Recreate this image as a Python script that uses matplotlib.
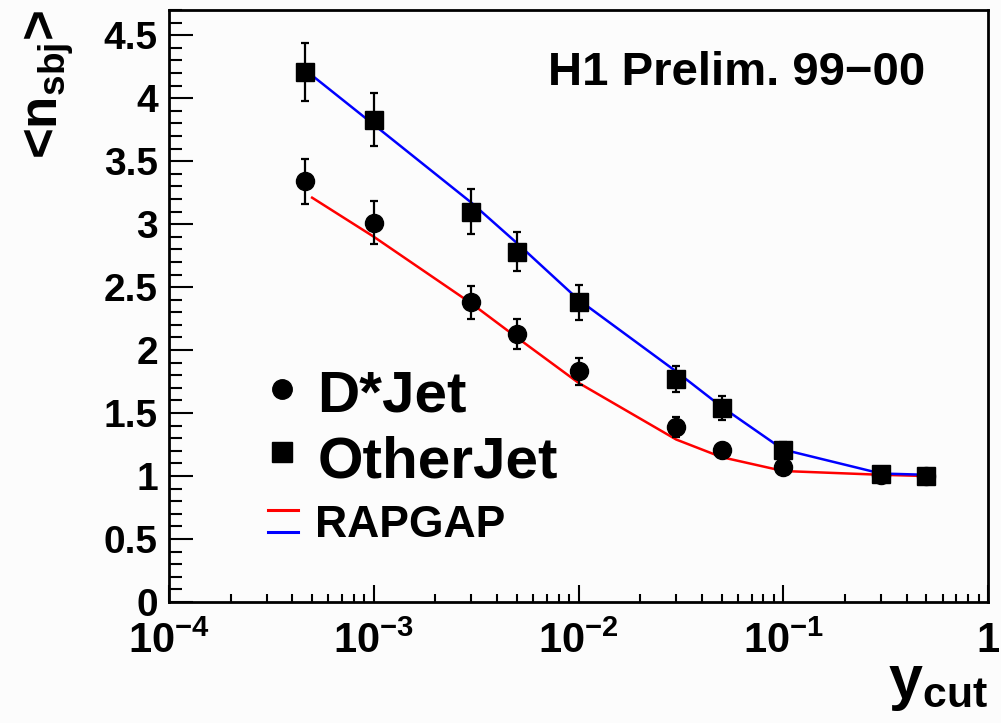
import matplotlib
matplotlib.use("Agg")
import matplotlib.pyplot as plt
from matplotlib.ticker import FixedLocator, FuncFormatter, MultipleLocator, LogLocator, NullFormatter
from matplotlib.lines import Line2D

plt.rcParams['font.family'] = ['Liberation Sans', 'DejaVu Sans']
plt.rcParams['font.weight'] = 'bold'
plt.rcParams['mathtext.fontset'] = 'custom'
plt.rcParams['mathtext.rm'] = 'Liberation Sans:bold'
plt.rcParams['mathtext.bf'] = 'Liberation Sans:bold'
plt.rcParams['mathtext.it'] = 'Liberation Sans:bold'
plt.rcParams['mathtext.sf'] = 'Liberation Sans:bold'
plt.rcParams['mathtext.default'] = 'bf'

# ---- data ----
ycut_data = [4.6e-4, 1e-3, 3e-3, 5e-3, 1e-2, 3e-2, 5e-2, 0.1, 0.3, 0.5]
dstar_jet = [3.34, 3.01, 2.38, 2.13, 1.83, 1.39, 1.21, 1.07, 1.01, 1.00]
dstar_err = [0.18, 0.17, 0.13, 0.12, 0.11, 0.08, 0.05, 0.03, 0.02, 0.02]
other_jet = [4.21, 3.83, 3.10, 2.78, 2.38, 1.77, 1.54, 1.21, 1.02, 1.00]
other_err = [0.23, 0.21, 0.18, 0.155, 0.14, 0.10, 0.095, 0.06, 0.03, 0.02]

ycut_mc = [5e-4, 1e-3, 3e-3, 5e-3, 1e-2, 3e-2, 5e-2, 0.1, 0.3, 0.5]
rapgap_dstar = [3.21, 2.90, 2.37, 2.10, 1.74, 1.29, 1.15, 1.04, 1.01, 1.00]
rapgap_other = [4.18, 3.79, 3.17, 2.85, 2.40, 1.83, 1.55, 1.21, 1.02, 1.01]

xtick_vals = [1e-4, 1e-3, 1e-2, 1e-1, 1]
xtick_labels = [r'$10^{-4}$', r'$10^{-3}$', r'$10^{-2}$', r'$10^{-1}$', '1']
ytick_vals = [0, 0.5, 1, 1.5, 2, 2.5, 3, 3.5, 4, 4.5]

bg = '#fcfcfc'
fig = plt.figure(figsize=(10.01, 7.23), dpi=100, facecolor=bg)
ax = fig.add_axes([169/1001, 1-602/723, (988-169)/1001, (602-10)/723])
ax.set_facecolor(bg)

ax.plot(ycut_mc, rapgap_dstar, color='#ff0000', lw=1.8, zorder=2)
ax.plot(ycut_mc, rapgap_other, color='#0000ff', lw=1.8, zorder=2)

ax.errorbar(ycut_data, dstar_jet, yerr=dstar_err, fmt='o', color='black',
            ms=13, elinewidth=1.6, capsize=3, capthick=1.6, zorder=3)
ax.errorbar(ycut_data, other_jet, yerr=other_err, fmt='s', color='black',
            ms=13, elinewidth=1.6, capsize=3, capthick=1.6, zorder=3)

ax.set_xscale('log')
ax.set_xlim(1e-4, 1)
ax.set_ylim(0, 4.7)

ax.xaxis.set_major_locator(FixedLocator(xtick_vals))
ax.xaxis.set_major_formatter(FuncFormatter(lambda v, p: xtick_labels[xtick_vals.index(v)] if v in xtick_vals else ''))
ax.xaxis.set_minor_locator(LogLocator(base=10, subs=[2, 3, 4, 5, 6, 7, 8, 9], numticks=20))
ax.xaxis.set_minor_formatter(NullFormatter())
ax.yaxis.set_major_locator(FixedLocator(ytick_vals))
ax.yaxis.set_major_formatter(FuncFormatter(lambda v, p: '%g' % v))
ax.yaxis.set_minor_locator(MultipleLocator(0.1))

ax.tick_params(axis='both', which='both', direction='in', top=False, right=False, width=1.5, color='black')
ax.tick_params(axis='x', which='major', length=12, labelsize=30, pad=14)
ax.tick_params(axis='x', which='minor', length=6)
ax.tick_params(axis='y', which='major', length=17, labelsize=28, pad=8)
ax.tick_params(axis='y', which='minor', length=9)
for s in ax.spines.values():
    s.set_linewidth(2)

# axis titles
fig.text(988/1001, 1-713/723, r'$y_{cut}$', fontsize=44, ha='right', va='bottom')
fig.text(49/1001, 1-10/723, r'<$n_{sbj}$>', fontsize=38, rotation=90, ha='center', va='top')

# annotation
ax.text(0.4628, 0.873, 'H1 Prelim. 99\u221200', transform=ax.transAxes, fontsize=34,
        ha='left', va='baseline', fontweight='bold')

# legend
ax.add_line(Line2D([0.138], [0.360], marker='o', ms=14, color='black', transform=ax.transAxes))
ax.text(0.1807, 0.321, 'D*Jet', transform=ax.transAxes, fontsize=42, ha='left', va='baseline')
ax.add_line(Line2D([0.138], [0.2534], marker='s', ms=14, color='black', transform=ax.transAxes))
ax.text(0.182, 0.211, 'OtherJet', transform=ax.transAxes, fontsize=42, ha='left', va='baseline')
ax.add_line(Line2D([0.121, 0.1575], [0.1554, 0.1554], color='#ff0000', lw=2.2, transform=ax.transAxes))
ax.add_line(Line2D([0.121, 0.1575], [0.118, 0.118], color='#0000ff', lw=2.2, transform=ax.transAxes))
ax.text(0.178, 0.1098, 'RAPGAP', transform=ax.transAxes, fontsize=32, ha='left', va='baseline')

fig.savefig('out.png', dpi=100, facecolor=bg)
